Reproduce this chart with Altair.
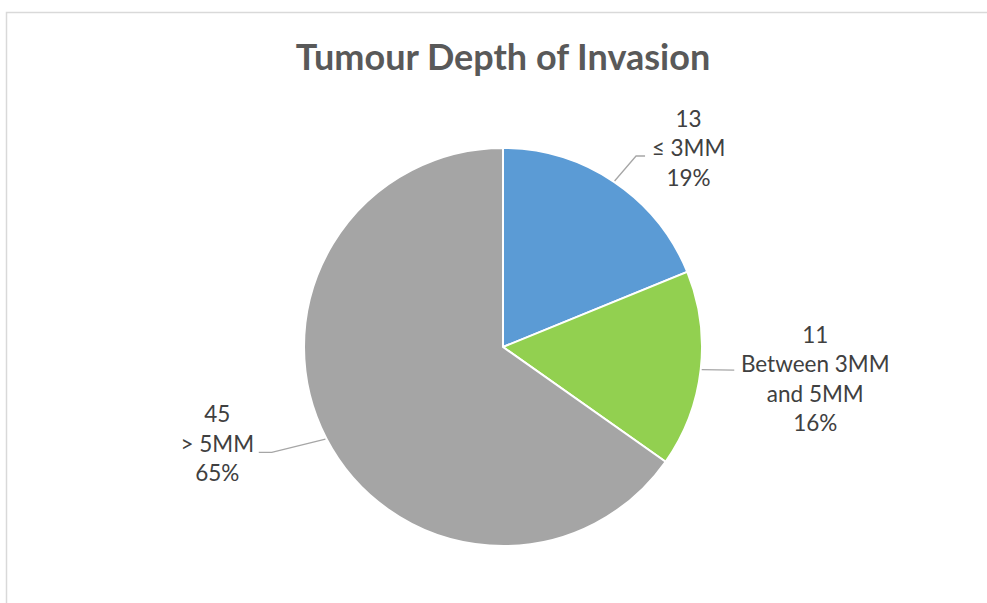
import math
import textwrap

import altair as alt
import pandas as pd

# --- data -------------------------------------------------------------
categories = ["≤ 3MM", "Between 3MM and 5MM", "> 5MM"]
counts = [13, 11, 45]
colors = ["#5B9BD5", "#92D050", "#A5A5A5"]

# --- layout -----------------------------------------------------------
W, H = 987, 603
CX, CY, R = 503, 347, 199
FONT = "Lato"
TEXT_COLOR = "#404040"
LINE_COLOR = "#A6A6A6"
LINE_HEIGHT = 29.5

# label block placement: radius from centre and angle nudge (degrees)
LABEL_RADIUS = [271, 314, 302]
LABEL_NUDGE = [9.3, -0.5, 8.5]
# leader end point relative to label centre, and length of the flat run
LEADER_END = [(-43.5, 6.5), (-81, -9.75), (41.5, 7.5)]
LEADER_RUN = [9, 0, -13]

total = sum(counts)


def polar(angle_deg, radius):
    a = math.radians(angle_deg)
    return CX + radius * math.sin(a), CY - radius * math.cos(a)


slices, labels, leaders = [], [], []
cum = 0
for i, (cat, n) in enumerate(zip(categories, counts)):
    mid = (cum + n / 2) / total * 360
    cum += n
    pct = round(n / total * 100)
    slices.append({"category": cat, "count": n, "order": i})

    lx, ly = polar(mid + LABEL_NUDGE[i], LABEL_RADIUS[i])
    lines = [str(n)] + textwrap.wrap(cat, 11) + [f"{pct}%"]
    # the text mark anchors its first line, so lift the block to centre it
    first_y = ly - (len(lines) - 1) / 2 * LINE_HEIGHT
    labels.append({"category": cat, "lines": lines, "x": lx, "y": first_y})

    sx, sy = polar(mid, R + 1)
    ex, ey = lx + LEADER_END[i][0], ly + LEADER_END[i][1]
    bx, by = ex - LEADER_RUN[i], ey
    for k, (px, py) in enumerate([(sx, sy), (bx, by), (ex, ey)]):
        leaders.append({"category": cat, "k": k, "x": px, "y": py})

slice_df = pd.DataFrame(slices)
label_df = pd.DataFrame(labels)
leader_df = pd.DataFrame(leaders)

color_scale = alt.Scale(domain=categories, range=colors)

pie = (
    alt.Chart(slice_df)
    .mark_arc(outerRadius=R, stroke="white", strokeWidth=2)
    .encode(
        theta=alt.Theta("count:Q", stack=True),
        color=alt.Color("category:N", scale=color_scale, legend=None),
        order=alt.Order("order:Q"),
        x=alt.value(CX),
        y=alt.value(CY),
    )
)

leader_lines = (
    alt.Chart(leader_df)
    .mark_line(color=LINE_COLOR, strokeWidth=1.3)
    .encode(
        x=alt.X("x:Q", scale=None),
        y=alt.Y("y:Q", scale=None),
        detail="category:N",
        order="k:Q",
    )
)

label_text = (
    alt.Chart(label_df)
    .mark_text(
        font=FONT,
        fontSize=22.5,
        lineHeight=LINE_HEIGHT,
        color=TEXT_COLOR,
        align="center",
        baseline="middle",
    )
    .encode(
        x=alt.X("x:Q", scale=None),
        y=alt.Y("y:Q", scale=None),
        text="lines",
    )
)

title = (
    alt.Chart(pd.DataFrame({"t": ["Tumour Depth of Invasion"]}))
    .mark_text(
        font=FONT,
        fontSize=36,
        fontWeight="bold",
        color="#595959",
        align="center",
        baseline="alphabetic",
    )
    .encode(x=alt.value(CX), y=alt.value(70), text="t:N")
)

frame = (
    alt.Chart(pd.DataFrame({"a": [0]}))
    .mark_rect(filled=False, stroke="#D9D9D9", strokeWidth=1.5)
    .encode(
        x=alt.value(6.5),
        x2=alt.value(W + 50),
        y=alt.value(12.5),
        y2=alt.value(H + 50),
    )
)

chart = (
    alt.layer(frame, pie, leader_lines, label_text, title)
    .properties(
        width=W,
        height=H,
        padding=0,
        autosize=alt.AutoSizeParams(type="none"),
        background="white",
    )
    .configure_view(stroke=None)
)

chart.save("out.html", embed_options={"renderer": "svg", "actions": False})
